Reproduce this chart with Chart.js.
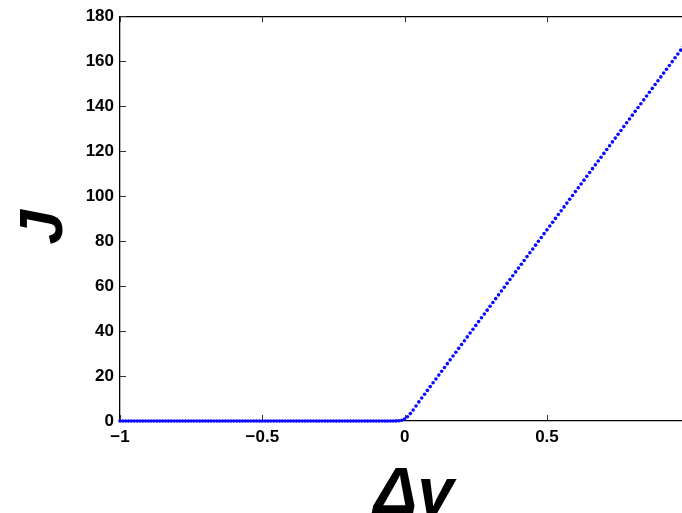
<!DOCTYPE html>
<html>
<head>
<meta charset="utf-8">
<script src="https://cdn.jsdelivr.net/npm/chart.js@4/dist/chart.umd.min.js"></script>
<style>
html,body{margin:0;padding:0;background:#fff;overflow:hidden;width:682px;height:513px;}
#wrap{position:absolute;left:0;top:0;width:700px;height:540px;}
</style>
</head>
<body>
<div id="wrap"><canvas id="c" width="700" height="540"></canvas></div>
<script>
// Δv sample grid
const dv = [
-1.00,-0.99,-0.98,-0.97,-0.96,-0.95,-0.94,-0.93,-0.92,-0.91,
-0.90,-0.89,-0.88,-0.87,-0.86,-0.85,-0.84,-0.83,-0.82,-0.81,
-0.80,-0.79,-0.78,-0.77,-0.76,-0.75,-0.74,-0.73,-0.72,-0.71,
-0.70,-0.69,-0.68,-0.67,-0.66,-0.65,-0.64,-0.63,-0.62,-0.61,
-0.60,-0.59,-0.58,-0.57,-0.56,-0.55,-0.54,-0.53,-0.52,-0.51,
-0.50,-0.49,-0.48,-0.47,-0.46,-0.45,-0.44,-0.43,-0.42,-0.41,
-0.40,-0.39,-0.38,-0.37,-0.36,-0.35,-0.34,-0.33,-0.32,-0.31,
-0.30,-0.29,-0.28,-0.27,-0.26,-0.25,-0.24,-0.23,-0.22,-0.21,
-0.20,-0.19,-0.18,-0.17,-0.16,-0.15,-0.14,-0.13,-0.12,-0.11,
-0.10,-0.09,-0.08,-0.07,-0.06,-0.05,-0.04,-0.03,-0.02,-0.01,
0.00,0.01,0.02,0.03,0.04,0.05,0.06,0.07,0.08,0.09,
0.10,0.11,0.12,0.13,0.14,0.15,0.16,0.17,0.18,0.19,
0.20,0.21,0.22,0.23,0.24,0.25,0.26,0.27,0.28,0.29,
0.30,0.31,0.32,0.33,0.34,0.35,0.36,0.37,0.38,0.39,
0.40,0.41,0.42,0.43,0.44,0.45,0.46,0.47,0.48,0.49,
0.50,0.51,0.52,0.53,0.54,0.55,0.56,0.57,0.58,0.59,
0.60,0.61,0.62,0.63,0.64,0.65,0.66,0.67,0.68,0.69,
0.70,0.71,0.72,0.73,0.74,0.75,0.76,0.77,0.78,0.79,
0.80,0.81,0.82,0.83,0.84,0.85,0.86,0.87,0.88,0.89,
0.90,0.91,0.92,0.93,0.94,0.95,0.96,0.97,0.98,0.99,
1.00
];
// J values
const J = [
0,0,0,0,0,0,0,0,0,0,
0,0,0,0,0,0,0,0,0,0,
0,0,0,0,0,0,0,0,0,0,
0,0,0,0,0,0,0,0,0,0,
0,0,0,0,0,0,0,0,0,0,
0,0,0,0,0,0,0,0,0,0,
0,0,0,0,0,0,0,0,0,0,
0,0,0,0,0,0,0,0,0,0,
0,0,0,0,0,0,0,0,0,0,
0,0,0,0,0,0,0.01,0.04,0.12,0.35,
0.9,1.9,3.3,4.9,6.7,8.5,10.2,11.9,13.6,15.3,
17.0,18.7,20.4,22.1,23.8,25.5,27.2,28.9,30.6,32.3,
34.0,35.7,37.4,39.1,40.8,42.5,44.2,45.9,47.6,49.3,
51.0,52.7,54.4,56.1,57.8,59.5,61.2,62.9,64.6,66.3,
68.0,69.7,71.4,73.1,74.8,76.5,78.2,79.9,81.6,83.3,
85.0,86.7,88.4,90.1,91.8,93.5,95.2,96.9,98.6,100.3,
102.0,103.7,105.4,107.1,108.8,110.5,112.2,113.9,115.6,117.3,
119.0,120.7,122.4,124.1,125.8,127.5,129.2,130.9,132.6,134.3,
136.0,137.7,139.4,141.1,142.8,144.5,146.2,147.9,149.6,151.3,
153.0,154.7,156.4,158.1,159.8,161.5,163.2,164.9,166.6,168.3,
170.0
];
const xTitle = ' Δv';
const yTitle = 'J ';
const xRange = [-1, 1];
const yRange = [0, 180];

const pts = dv.map((v, i) => ({x: v, y: J[i]}));

const frame = {
  id: 'frame',
  beforeDatasetsDraw(chart) {
    const {ctx, chartArea: a, scales: {x, y}} = chart;
    ctx.save();
    ctx.strokeStyle = '#000';
    ctx.lineWidth = 1.3;
    ctx.beginPath();
    ctx.moveTo(a.left, a.top + 0.5); ctx.lineTo(a.right, a.top + 0.5);
    ctx.moveTo(a.right - 0.5, a.top); ctx.lineTo(a.right - 0.5, a.bottom);
    ctx.stroke();
    ctx.lineWidth = 1;
    ctx.strokeStyle = '#333';
    ctx.beginPath();
    x.ticks.forEach(t => {
      const px = Math.round(x.getPixelForValue(t.value)) + 0.5;
      ctx.moveTo(px, a.bottom); ctx.lineTo(px, a.bottom - 6);
      ctx.moveTo(px, a.top); ctx.lineTo(px, a.top + 6);
    });
    y.ticks.forEach(t => {
      const py = Math.round(y.getPixelForValue(t.value)) + 0.5;
      ctx.moveTo(a.left, py); ctx.lineTo(a.left + 6, py);
      ctx.moveTo(a.right, py); ctx.lineTo(a.right - 6, py);
    });
    ctx.stroke();
    ctx.restore();
  }
};

const tickFont = {family: '"Liberation Sans", Arial, sans-serif', size: 17, weight: 'bold'};
const fmt = v => (v < 0 ? '\u2212' + Math.abs(v) : String(v));

new Chart(document.getElementById('c'), {
  type: 'scatter',
  data: {
    datasets: [{
      data: pts,
      showLine: false,
      clip: false,
      pointRadius: 1.8,
      pointHoverRadius: 1.8,
      pointBorderWidth: 0,
      backgroundColor: '#0a0aff',
      borderColor: '#0a0aff'
    }]
  },
  options: {
    responsive: false,
    animation: false,
    events: [],
    layout: {padding: {top: 16, right: 10.5, left: 0, bottom: 0}},
    plugins: {legend: {display: false}, tooltip: {enabled: false}},
    scales: {
      x: {
        type: 'linear',
        min: xRange[0], max: xRange[1],
        grid: {display: true, drawOnChartArea: false, drawTicks: false},
        border: {display: true, color: '#000', width: 1.3},
        ticks: {stepSize: 0.5, font: tickFont, color: '#000', padding: 6, maxRotation: 0, callback: fmt},
        title: {display: true, text: xTitle, color: '#000',
          font: {family: '"Liberation Sans", Arial, sans-serif', size: 65, weight: 'bold', style: 'italic', lineHeight: 1},
          padding: {top: 0, bottom: 12}},
        afterFit: s => { s.height = 119; }
      },
      y: {
        type: 'linear',
        min: yRange[0], max: yRange[1],
        grid: {display: true, drawOnChartArea: false, drawTicks: false},
        border: {display: true, color: '#000', width: 1.3},
        ticks: {stepSize: 20, font: tickFont, color: '#000', padding: 6, callback: fmt},
        title: {display: true, text: yTitle, color: '#000',
          font: {family: '"Liberation Sans", Arial, sans-serif', size: 62, weight: 'bold', style: 'italic', lineHeight: 1},
          padding: {top: 14, bottom: 0}},
        afterFit: s => { s.width = 120; }
      }
    }
  },
  plugins: [frame]
});
</script>
</body>
</html>
